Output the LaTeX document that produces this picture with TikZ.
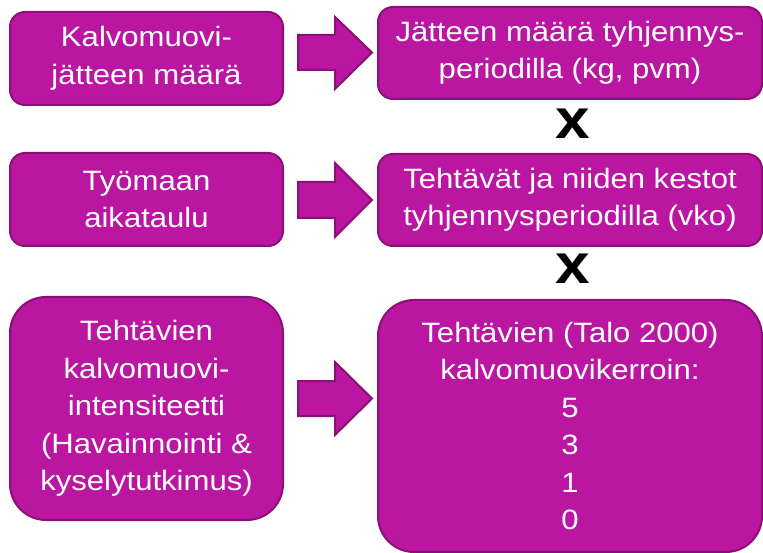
\documentclass[tikz,border=0pt]{standalone}
\usepackage{fontspec}
\setmainfont[FakeStretch=1.11]{Liberation Sans}
\definecolor{boxfill}{RGB}{187,22,161}
\definecolor{boxedge}{RGB}{138,16,118}
\begin{document}
\begin{tikzpicture}[x=1pt,y=-1pt,
  box/.style={draw=boxedge, line width=2pt, fill=boxfill, text=white,
    rounded corners=15pt, align=center, inner sep=0pt,
    font=\fontsize{28}{37.5}\selectfont},
  bigbox/.style={box, rounded corners=36pt},
  blockarrow/.style={draw=boxedge, line width=2pt, fill=boxfill, line join=miter},
  times/.style={font=\fontsize{56}{56}\bfseries\selectfont, inner sep=0pt}
]
\useasboundingbox (0,0) rectangle (763,553);
% left boxes
\node[box, minimum width=273pt, minimum height=93pt] (l1) at (146.5,58.5) {Kalvomuovi-\\jätteen määrä};
\node[box, minimum width=273pt, minimum height=93pt] (l2) at (146.5,199.5) {Työmaan\\aikataulu};
\node[bigbox, minimum width=273pt, minimum height=223pt] (l3) at (146.5,408.5) {Tehtävien\\kalvomuovi-\\intensiteetti\\(Havainnointi \&\\kyselytutkimus)};
% right boxes
\node[box, minimum width=384pt, minimum height=92pt] (r1) at (570,53) {Jätteen määrä tyhjennys-\\periodilla (kg, pvm)};
\node[box, minimum width=384pt, minimum height=92pt] (r2) at (570,200) {Tehtävät ja niiden kestot\\tyhjennysperiodilla (vko)};
\node[bigbox, minimum width=384pt, minimum height=252pt] (r3) at (570,426) {Tehtävien (Talo 2000)\\kalvomuovikerroin:\\5\\3\\1\\0};
% multiplication signs
\node[times] (x1) at (573,124) {x};
\node[times] (x2) at (573,269) {x};
% block arrows
\draw[blockarrow] (298,35) -- (335,35) -- (335,17) -- (372,52.5) -- (335,89) -- (335,70) -- (298,70) -- cycle;
\draw[blockarrow] (298,182) -- (335,182) -- (335,163) -- (372,200) -- (335,237) -- (335,218) -- (298,218) -- cycle;
\draw[blockarrow] (298,381) -- (335,381) -- (335,362) -- (372,398.5) -- (335,435) -- (335,416) -- (298,416) -- cycle;
\end{tikzpicture}
\end{document}
